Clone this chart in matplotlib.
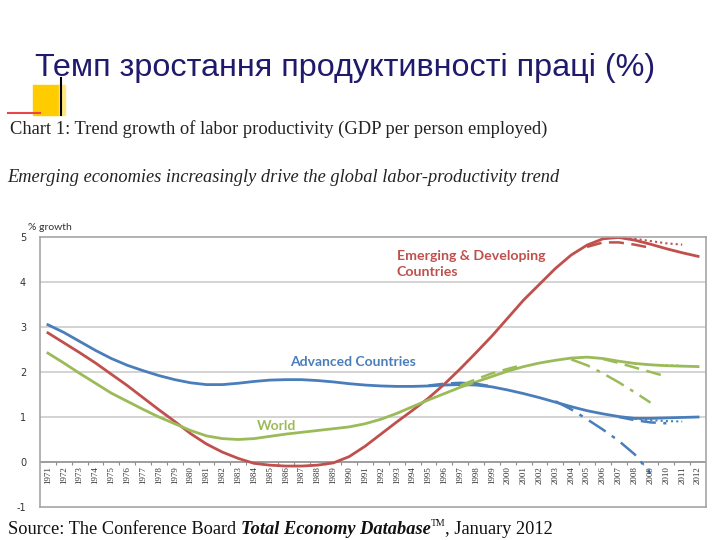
import matplotlib.pyplot as plt
from matplotlib.patches import Rectangle
from matplotlib.lines import Line2D

years = list(range(1971, 2013))

advanced = [3.05, 2.88, 2.68, 2.48, 2.30, 2.15, 2.03, 1.92, 1.83, 1.76,
            1.72, 1.72, 1.75, 1.79, 1.82, 1.83, 1.83, 1.81, 1.78, 1.74,
            1.71, 1.69, 1.68, 1.68, 1.69, 1.71, 1.72, 1.71, 1.67, 1.60,
            1.52, 1.43, 1.33, 1.23, 1.14, 1.07, 1.01, 0.97, 0.97, 0.98,
            0.99, 1.00]
emerging = [2.87, 2.65, 2.43, 2.20, 1.95, 1.70, 1.43, 1.16, 0.90, 0.63,
            0.40, 0.22, 0.08, -0.03, -0.07, -0.09, -0.09, -0.07, -0.02, 0.12,
            0.35, 0.62, 0.89, 1.15, 1.42, 1.73, 2.07, 2.43, 2.80, 3.20,
            3.60, 3.95, 4.30, 4.60, 4.82, 4.96, 4.99, 4.93, 4.84, 4.74,
            4.65, 4.57]
world = [2.42, 2.20, 1.97, 1.75, 1.53, 1.35, 1.17, 1.00, 0.85, 0.70,
         0.58, 0.52, 0.50, 0.52, 0.57, 0.62, 0.66, 0.70, 0.74, 0.78,
         0.85, 0.95, 1.08, 1.23, 1.38, 1.52, 1.66, 1.78, 1.90, 2.02,
         2.12, 2.20, 2.26, 2.31, 2.33, 2.30, 2.24, 2.19, 2.16, 2.14,
         2.13, 2.12]

# alternative projections (dashed / dotted / dash-dot)
adv_dd_years = [2003, 2004, 2005, 2006, 2007, 2008, 2009]
adv_dd = [1.35, 1.17, 0.95, 0.72, 0.47, 0.17, -0.25]
adv_da_years = [1995, 1996, 1997, 1998, 1999]
adv_da = [1.70, 1.74, 1.76, 1.74, 1.68]
adv_da2_years = [2007, 2008, 2009, 2010]
adv_da2 = [1.00, 0.93, 0.88, 0.86]
adv_dot_years = [2008, 2009, 2010, 2011]
adv_dot = [0.96, 0.93, 0.91, 0.90]

wld_dd_years = [2004, 2005, 2006, 2007, 2008, 2009]
wld_dd = [2.28, 2.15, 1.97, 1.77, 1.55, 1.32]
wld_da_years = [2006, 2007, 2008, 2009, 2010]
wld_da = [2.29, 2.20, 2.10, 2.00, 1.90]
wld_da2_years = [1997, 1998, 1999, 2000, 2001]
wld_da2 = [1.70, 1.84, 1.97, 2.07, 2.16]
wld_dot_years = [2008, 2009, 2010, 2011]
wld_dot = [2.19, 2.16, 2.15, 2.14]

em_da_years = [2005, 2006, 2007, 2008, 2009]
em_da = [4.78, 4.88, 4.88, 4.83, 4.76]
em_dot_years = [2007, 2008, 2009, 2010, 2011]
em_dot = [4.98, 4.96, 4.91, 4.86, 4.83]

yticks = [-1, 0, 1, 2, 3, 4, 5]

BLUE = "#4a7ebb"
RED = "#c0504d"
GREEN = "#9bbb59"

fig = plt.figure(figsize=(7.2, 5.4), dpi=100)

# header texts
fig.text(35 / 720, 1 - 68 / 540, "Темп зростання продуктивності праці (%)",
         fontsize=23.3, color="#1f1a6b", family="Liberation Sans", va="center")
fig.patches.append(Rectangle((33 / 720, 1 - 115 / 540), 26 / 720, 30 / 540,
                             transform=fig.transFigure, color="#ffcc00", zorder=1))
fig.patches.append(Rectangle((59 / 720, 1 - 115 / 540), 6 / 720, 30 / 540,
                             transform=fig.transFigure, color="#ffe680", zorder=1))
fig.lines.append(Line2D([61 / 720, 61 / 720], [1 - 78 / 540, 1 - 115 / 540],
                        transform=fig.transFigure, color="black", lw=1.5))
fig.lines.append(Line2D([8 / 720, 40 / 720], [1 - 113 / 540, 1 - 113 / 540],
                        transform=fig.transFigure, color="#e8474a", lw=1.5))

fig.text(10 / 720, 1 - 129 / 540,
         "Chart 1: Trend growth of labor productivity (GDP per person employed)",
         fontsize=13.3, family="Liberation Serif", va="center", color="#222222")
fig.text(7 / 720, 1 - 178 / 540,
         "Emerging economies increasingly drive the global labor-productivity trend",
         fontsize=13.2, family="Liberation Serif", style="italic", va="center",
         color="#222222")

ax = fig.add_axes([40 / 720, 33 / 540, 666 / 720, 270 / 540])
ax.set_xlim(1970.5, 2012.5)
ax.set_ylim(-1, 5)

for v in [1, 2, 3, 4]:
    ax.axhline(v, color="#d0d0d0", lw=1.3, zorder=0)
ax.axhline(0, color="#8c8c8c", lw=1.2, zorder=1)
ax.vlines([y + 0.5 for y in years[:-1]], -0.06, 0, color="#8c8c8c", lw=0.8)

ax.plot(years, advanced, color=BLUE, lw=2)
ax.plot(years, emerging, color=RED, lw=2)
ax.plot(years, world, color=GREEN, lw=2)

ax.plot(adv_dd_years, adv_dd, color=BLUE, lw=1.8, ls=(0, (8, 3, 1.5, 3)))
ax.plot(adv_da_years, adv_da, color=BLUE, lw=1.8, ls=(0, (6, 3)))
ax.plot(adv_da2_years, adv_da2, color=BLUE, lw=1.8, ls=(0, (6, 3)))
ax.plot(adv_dot_years, adv_dot, color=BLUE, lw=1.5, ls=(0, (1, 1.5)))
ax.plot(wld_dd_years, wld_dd, color=GREEN, lw=1.8, ls=(0, (8, 3, 1.5, 3)))
ax.plot(wld_da_years, wld_da, color=GREEN, lw=1.8, ls=(0, (6, 3)))
ax.plot(wld_da2_years, wld_da2, color=GREEN, lw=1.8, ls=(0, (6, 3)))
ax.plot(wld_dot_years, wld_dot, color=GREEN, lw=1.5, ls=(0, (1, 1.5)))
ax.plot(em_da_years, em_da, color=RED, lw=1.8, ls=(0, (6, 3)))
ax.plot(em_dot_years, em_dot, color=RED, lw=1.5, ls=(0, (1, 1.5)))

for y in years:
    ax.text(y, -0.1, str(y), rotation=90, ha="center", va="top",
            fontsize=6.5, family="Liberation Serif", color="#333333")

ax.set_xticks([])
ax.set_yticks(yticks)
ax.set_yticklabels([str(t) for t in yticks], fontsize=7, color="#333333")
ax.tick_params(axis="y", length=0, pad=10)
for s in ax.spines.values():
    s.set_color("#a6a6a6")
    s.set_linewidth(1.2)

ax.text(1970.5 - 12 / 15.85, 5.1, "% growth", fontsize=7.5, color="#333333",
        family="Lato", va="bottom")
ax.text(1993.0, 4.4, "Emerging & Developing\nCountries", color=RED,
        fontsize=10.2, family="Lato", weight="bold", va="center", linespacing=1.45)
ax.text(1986.3, 2.22, "Advanced Countries", color=BLUE, fontsize=10,
        family="Lato", weight="bold", va="center")
ax.text(1984.2, 0.8, "World", color=GREEN, fontsize=10, family="Lato",
        weight="bold", va="center")

# source line built from pieces placed one after another
renderer = fig.canvas.get_renderer()
src_y = 1 - 530 / 540
pieces = [
    ("Source: The Conference Board ", {}, 0),
    ("Total Economy Database", {"weight": "bold", "style": "italic"}, 0),
    ("TM", {"fontsize": 7}, 7 / 540),
    (", January 2012", {}, 0),
]
x = 8 / 720
for txt, kw, dy in pieces:
    opts = {"fontsize": 13.2, "family": "Liberation Serif", "color": "#111111",
            "va": "center"}
    opts.update(kw)
    t = fig.text(x, src_y + dy, txt, **opts)
    bb = t.get_window_extent(renderer)
    x = bb.x1 / fig.bbox.width

fig.savefig("out.png", dpi=100)
